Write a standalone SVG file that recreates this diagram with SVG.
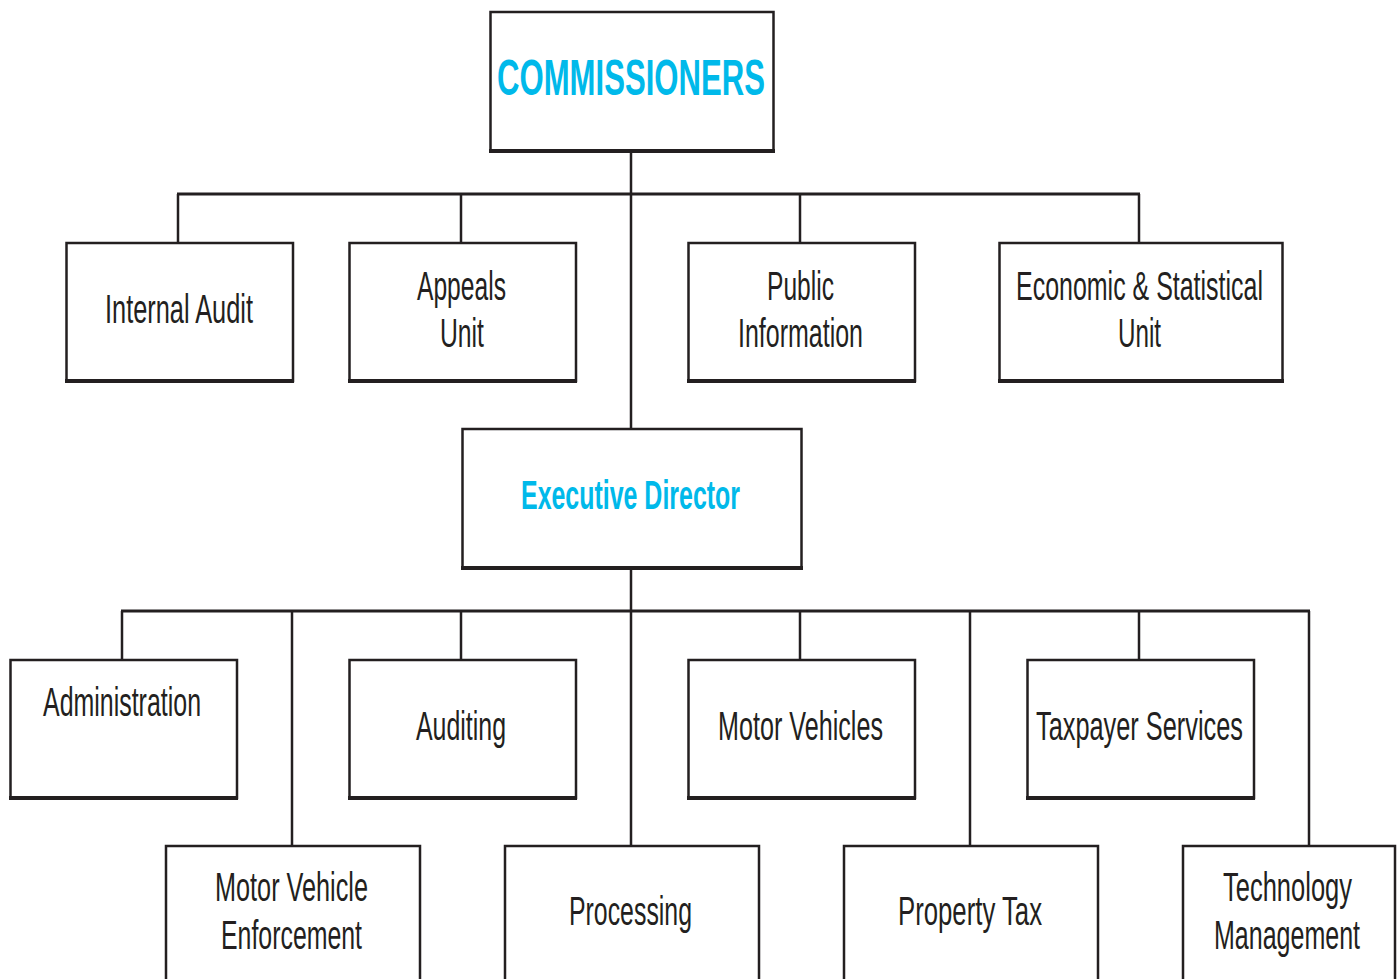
<svg xmlns="http://www.w3.org/2000/svg" width="1398" height="979" viewBox="0 0 1398 979">
<style>
.box{fill:#fff;stroke:#231f20;stroke-width:2.5}
.bot{stroke:#231f20;stroke-width:4;fill:none}
.c{stroke:#231f20;fill:none}
.t{font-family:"Liberation Sans Narrow","Liberation Sans",Arial,sans-serif;font-size:41px;fill:#231f20;text-anchor:middle}
.h{font-family:"Liberation Sans Narrow","Liberation Sans",Arial,sans-serif;font-weight:bold;fill:#00b9ea;text-anchor:middle}
</style>
<rect width="1398" height="979" fill="#fff"/>
<g id="connectors">
<line class="c" stroke-width="2.5" x1="631" y1="148" x2="631" y2="428"/>
<line class="c" stroke-width="3" x1="177" y1="194" x2="1140" y2="194"/>
<line class="c" stroke-width="2.5" x1="178" y1="194" x2="178" y2="242"/>
<line class="c" stroke-width="2.5" x1="461" y1="194" x2="461" y2="242"/>
<line class="c" stroke-width="2.5" x1="800" y1="194" x2="800" y2="242"/>
<line class="c" stroke-width="2.5" x1="1139" y1="194" x2="1139" y2="242"/>
<line class="c" stroke-width="2.5" x1="631" y1="562" x2="631" y2="845"/>
<line class="c" stroke-width="3" x1="121" y1="611" x2="1310" y2="611"/>
<line class="c" stroke-width="2.5" x1="122" y1="611" x2="122" y2="659"/>
<line class="c" stroke-width="2.5" x1="292" y1="611" x2="292" y2="845"/>
<line class="c" stroke-width="2.5" x1="461" y1="611" x2="461" y2="659"/>
<line class="c" stroke-width="2.5" x1="800" y1="611" x2="800" y2="659"/>
<line class="c" stroke-width="2.5" x1="970" y1="611" x2="970" y2="845"/>
<line class="c" stroke-width="2.5" x1="1139" y1="611" x2="1139" y2="659"/>
<line class="c" stroke-width="2.5" x1="1309" y1="611" x2="1309" y2="845"/>
</g>
<g id="commissioners">
<rect class="box" x="490.5" y="12" width="283" height="139"/>
<line class="bot" x1="489" y1="151" x2="775" y2="151"/>
<text class="h" x="631" y="95" font-size="50" textLength="268" lengthAdjust="spacingAndGlyphs">COMMISSIONERS</text>
</g>
<g id="internal-audit">
<rect class="box" x="66.5" y="243" width="226.5" height="138"/>
<line class="bot" x1="65" y1="381" x2="294" y2="381"/>
<text class="t" x="179" y="323" textLength="148" lengthAdjust="spacingAndGlyphs">Internal Audit</text>
</g>
<g id="appeals-unit">
<rect class="box" x="349.5" y="243" width="226.5" height="138"/>
<line class="bot" x1="348" y1="381" x2="577" y2="381"/>
<text class="t" x="461.5" y="300" textLength="89" lengthAdjust="spacingAndGlyphs">Appeals</text>
<text class="t" x="462" y="347" textLength="44" lengthAdjust="spacingAndGlyphs">Unit</text>
</g>
<g id="public-information">
<rect class="box" x="688.5" y="243" width="226.5" height="138"/>
<line class="bot" x1="687" y1="381" x2="916" y2="381"/>
<text class="t" x="800.5" y="300" textLength="67" lengthAdjust="spacingAndGlyphs">Public</text>
<text class="t" x="800.5" y="347" textLength="125" lengthAdjust="spacingAndGlyphs">Information</text>
</g>
<g id="economic-statistical">
<rect class="box" x="999.5" y="243" width="283" height="138"/>
<line class="bot" x1="998" y1="381" x2="1284" y2="381"/>
<text class="t" x="1139.5" y="300" textLength="247" lengthAdjust="spacingAndGlyphs">Economic &amp; Statistical</text>
<text class="t" x="1139.5" y="347" textLength="43" lengthAdjust="spacingAndGlyphs">Unit</text>
</g>
<g id="executive-director">
<rect class="box" x="462.5" y="429" width="339" height="139"/>
<line class="bot" x1="461" y1="568" x2="803" y2="568"/>
<text class="h" x="630.5" y="509" font-size="40" textLength="219" lengthAdjust="spacingAndGlyphs">Executive Director</text>
</g>
<g id="administration">
<rect class="box" x="10.5" y="660" width="226.5" height="138"/>
<line class="bot" x1="9" y1="798" x2="238" y2="798"/>
<text class="t" x="122" y="716" textLength="158" lengthAdjust="spacingAndGlyphs">Administration</text>
</g>
<g id="auditing">
<rect class="box" x="349.5" y="660" width="226.5" height="138"/>
<line class="bot" x1="348" y1="798" x2="577" y2="798"/>
<text class="t" x="461" y="740" textLength="90" lengthAdjust="spacingAndGlyphs">Auditing</text>
</g>
<g id="motor-vehicles">
<rect class="box" x="688.5" y="660" width="226.5" height="138"/>
<line class="bot" x1="687" y1="798" x2="916" y2="798"/>
<text class="t" x="800.5" y="740" textLength="165" lengthAdjust="spacingAndGlyphs">Motor Vehicles</text>
</g>
<g id="taxpayer-services">
<rect class="box" x="1027.5" y="660" width="226.5" height="138"/>
<line class="bot" x1="1026" y1="798" x2="1255" y2="798"/>
<text class="t" x="1139.5" y="740" textLength="207" lengthAdjust="spacingAndGlyphs">Taxpayer Services</text>
</g>
<g id="motor-vehicle-enforcement">
<rect class="box" x="166" y="846" width="254" height="150"/>
<text class="t" x="291.5" y="901" textLength="153" lengthAdjust="spacingAndGlyphs">Motor Vehicle</text>
<text class="t" x="291.5" y="949" textLength="141" lengthAdjust="spacingAndGlyphs">Enforcement</text>
</g>
<g id="processing">
<rect class="box" x="505" y="846" width="254" height="150"/>
<text class="t" x="630.5" y="925" textLength="123" lengthAdjust="spacingAndGlyphs">Processing</text>
</g>
<g id="property-tax">
<rect class="box" x="844" y="846" width="254" height="150"/>
<text class="t" x="970" y="925" textLength="144" lengthAdjust="spacingAndGlyphs">Property Tax</text>
</g>
<g id="technology-management">
<rect class="box" x="1183" y="846" width="212" height="150"/>
<text class="t" x="1287.5" y="901" textLength="129" lengthAdjust="spacingAndGlyphs">Technology</text>
<text class="t" x="1287" y="949" textLength="146" lengthAdjust="spacingAndGlyphs">Management</text>
</g>
</svg>
